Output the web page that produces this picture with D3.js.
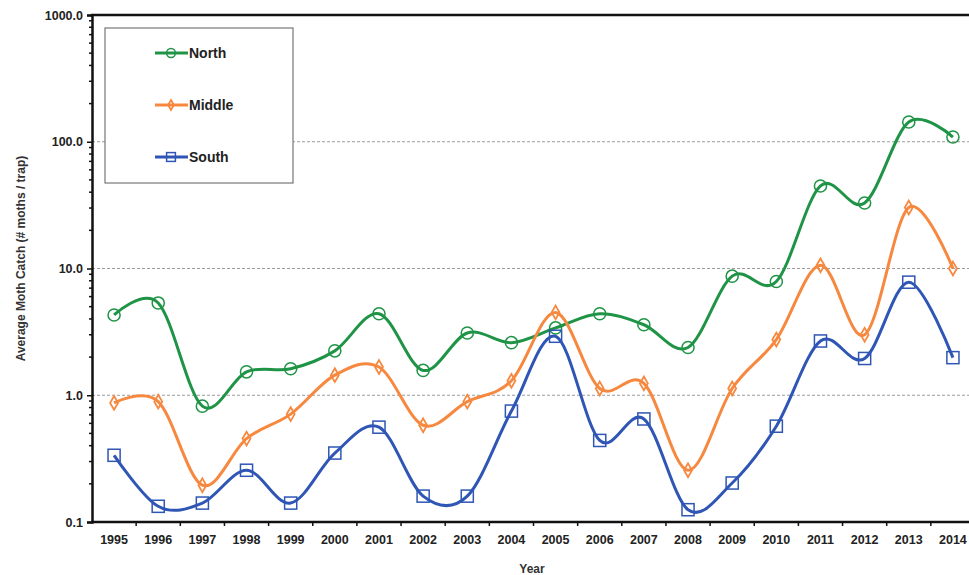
<!DOCTYPE html>
<html>
<head>
<meta charset="utf-8">
<script src="https://cdn.jsdelivr.net/npm/d3@7"></script>
<style>
    body { margin: 0; background: #fff; }
    svg { display: block; font-family: Arial, "Liberation Sans", sans-serif; }
    .tick-label { font-size: 12.5px; font-weight: bold; fill: #222; }
    .axis-title { font-size: 12px; font-weight: bold; fill: #333; }
    .legend-label { font-size: 14px; font-weight: bold; fill: #222; }
</style>
</head>
<body>
<script>
// Data
const years = [1995, 1996, 1997, 1998, 1999, 2000, 2001, 2002, 2003, 2004,
               2005, 2006, 2007, 2008, 2009, 2010, 2011, 2012, 2013, 2014];
const north = [4.3, 5.35, 0.82, 1.53, 1.62, 2.24, 4.4, 1.57, 3.1, 2.6,
               3.4, 4.4, 3.6, 2.38, 8.7, 7.9, 44.8, 32.9, 143, 109];
const middle = [0.87, 0.89, 0.195, 0.455, 0.71, 1.44, 1.67, 0.58, 0.89, 1.3,
                4.5, 1.13, 1.24, 0.256, 1.13, 2.75, 10.6, 3.0, 30.3, 10.0];
const south = [0.336, 0.133, 0.141, 0.256, 0.141, 0.35, 0.56, 0.16, 0.16, 0.75,
               2.92, 0.44, 0.65, 0.125, 0.203, 0.57, 2.68, 1.95, 7.8, 1.98];
const yTicks = [0.1, 1, 10, 100, 1000];
const gridValues = [1, 10, 100];

const seriesList = [
    {name: 'North', values: north, color: '#1f9446', marker: 'circle'},
    {name: 'Middle', values: middle, color: '#f7883f', marker: 'diamond'},
    {name: 'South', values: south, color: '#2f56b5', marker: 'square'}
];

const width = 969, height = 575;
const margin = {top: 15, right: -6, bottom: 53, left: 92};

const svg = d3.select('body').append('svg')
    .attr('width', width)
    .attr('height', height);

// Scales
let xScale = d3.scaleBand()
    .domain(years)
    .range([margin.left, width - margin.right]);

let yScale = d3.scaleLog()
    .domain([0.1, 1000])
    .range([height - margin.bottom, margin.top]);

let xCenter = d => xScale(d) + xScale.bandwidth() / 2;

// Gridlines
svg.append('g')
    .selectAll('line')
    .data(gridValues)
    .enter().append('line')
    .attr('x1', margin.left)
    .attr('x2', width)
    .attr('y1', d => yScale(d))
    .attr('y2', d => yScale(d))
    .style('stroke', '#9a9a9a')
    .style('stroke-width', 1.2)
    .style('stroke-dasharray', '3,2');

// Lines
let line = d3.line()
    .x((d, i) => xCenter(years[i]))
    .y(d => yScale(d))
    .curve(d3.curveCardinal.tension(0));

let groups = svg.selectAll('g.series')
    .data(seriesList)
    .enter().append('g')
    .classed('series', true);

groups.append('path')
    .attr('d', d => line(d.values))
    .style('fill', 'none')
    .style('stroke', d => d.color)
    .style('stroke-width', 3);

// Markers
function drawMarker(sel, type, color, size) {
    if (type === 'circle') {
        sel.append('circle')
            .attr('r', size * 0.55)
            .style('fill', 'none')
            .style('stroke', color)
            .style('stroke-width', 1.5);
    } else if (type === 'square') {
        sel.append('rect')
            .attr('x', -size * 0.55)
            .attr('y', -size * 0.55)
            .attr('width', size * 1.1)
            .attr('height', size * 1.1)
            .style('fill', 'none')
            .style('stroke', color)
            .style('stroke-width', 1.5);
    } else {
        sel.append('path')
            .attr('d', d3.symbol().type(d3.symbolDiamond).size(size * size * 0.45))
            .style('fill', 'none')
            .style('stroke', color)
            .style('stroke-width', 1.8);
    }
}

groups.each(function (s) {
    let g = d3.select(this);
    s.values.forEach((v, i) => {
        let m = g.append('g')
            .attr('transform', 'translate(' + xCenter(years[i]) + ',' + yScale(v) + ')');
        drawMarker(m, s.marker, s.color, 11);
    });
});

// Y axis
let yAxis = d3.axisLeft(yScale)
    .tickValues(yTicks)
    .tickFormat(d => d3.format('.1f')(d))
    .tickSize(5)
    .tickPadding(4);

let yAxisG = svg.append('g')
    .attr('transform', 'translate(' + margin.left + ',0)')
    .call(yAxis);
yAxisG.select('.domain').style('stroke', '#111').style('stroke-width', 2.5);
yAxisG.selectAll('.tick line').style('stroke', '#111').style('stroke-width', 1.5);
yAxisG.selectAll('.tick text').attr('class', 'tick-label').style('font-family', null).style('font-size', null);

// Minor log ticks
let minorTicks = yScale.ticks().filter(d => yTicks.indexOf(d) < 0);
svg.append('g')
    .selectAll('line')
    .data(minorTicks)
    .enter().append('line')
    .attr('x1', margin.left - 3)
    .attr('x2', margin.left)
    .attr('y1', d => yScale(d))
    .attr('y2', d => yScale(d))
    .style('stroke', '#111')
    .style('stroke-width', 1.5);

// X axis
let xAxis = d3.axisBottom(xScale)
    .tickSize(0)
    .tickPadding(13);

let xAxisG = svg.append('g')
    .attr('transform', 'translate(0,' + (height - margin.bottom) + ')')
    .call(xAxis);
xAxisG.select('.domain').remove();
xAxisG.selectAll('.tick text').attr('class', 'tick-label').style('font-family', null).style('font-size', null);

svg.append('line')
    .attr('x1', margin.left - 1)
    .attr('x2', width)
    .attr('y1', height - margin.bottom)
    .attr('y2', height - margin.bottom)
    .style('stroke', '#111')
    .style('stroke-width', 2.5);

// Ticks between categories on the x axis
svg.append('g')
    .selectAll('line')
    .data(years.slice(1))
    .enter().append('line')
    .attr('x1', d => xScale(d))
    .attr('x2', d => xScale(d))
    .attr('y1', height - margin.bottom)
    .attr('y2', height - margin.bottom + 4)
    .style('stroke', '#111')
    .style('stroke-width', 1.5);

// Top border
svg.append('line')
    .attr('x1', margin.left - 1)
    .attr('x2', width)
    .attr('y1', margin.top)
    .attr('y2', margin.top)
    .style('stroke', '#111')
    .style('stroke-width', 2.5);

// Axis titles
svg.append('text')
    .attr('class', 'axis-title')
    .attr('transform', 'translate(25,' + ((margin.top + height - margin.bottom) / 2 - 10) + ') rotate(-90)')
    .style('text-anchor', 'middle')
    .text('Average Moth Catch (# moths / trap)');

svg.append('text')
    .attr('class', 'axis-title')
    .attr('x', 532)
    .attr('y', 573)
    .style('text-anchor', 'middle')
    .text('Year');

// Legend
let legend = svg.append('g')
    .attr('transform', 'translate(105,28)');

legend.append('rect')
    .attr('width', 188)
    .attr('height', 155)
    .style('fill', '#fff')
    .style('stroke', '#777')
    .style('stroke-width', 1.2);

let legendItems = legend.selectAll('g.legend')
    .data(seriesList)
    .enter().append('g')
    .classed('legend', true)
    .attr('transform', (d, i) => 'translate(0,' + (25 + i * 52) + ')');

legendItems.append('line')
    .attr('x1', 50)
    .attr('x2', 83)
    .style('stroke', d => d.color)
    .style('stroke-width', 3);

legendItems.each(function (s) {
    let m = d3.select(this).append('g').attr('transform', 'translate(66,0)');
    drawMarker(m, s.marker, s.color, 8);
});

legendItems.append('text')
    .attr('class', 'legend-label')
    .attr('x', 84)
    .attr('y', 5)
    .text(d => d.name);
</script>
</body>
</html>
